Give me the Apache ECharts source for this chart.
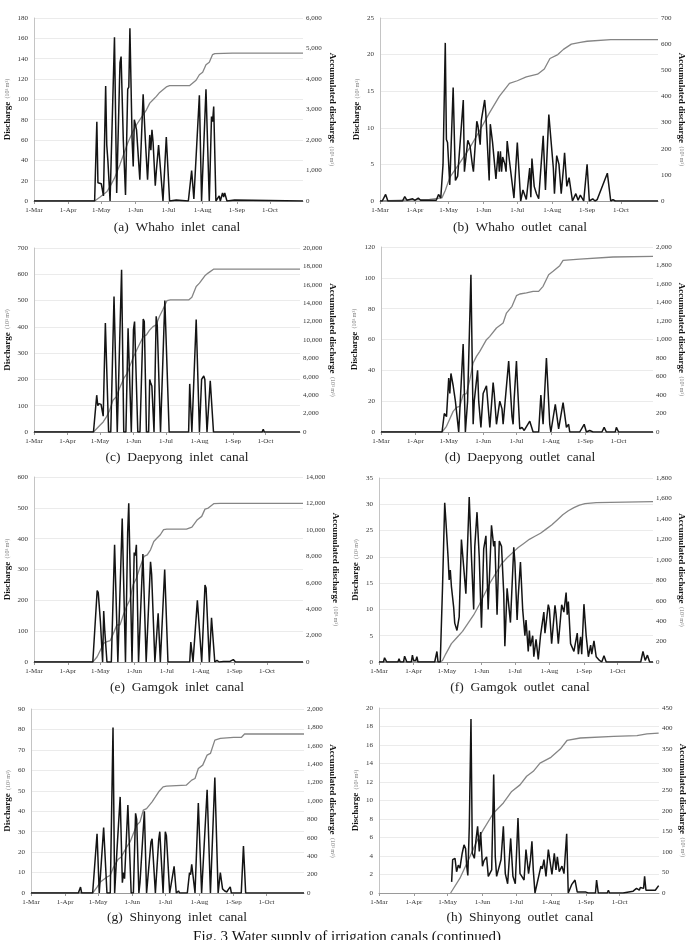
<!DOCTYPE html>
<html>
<head>
<meta charset="utf-8">
<script src="https://cdn.jsdelivr.net/npm/echarts@6/dist/echarts.min.js"></script>
<style>
  html, body { margin: 0; background: #fff; }
  #chart { width: 694px; height: 940px; }
</style>
</head>
<body>
<div id="chart"></div>
<script>
// x axis = days counted from 1 March
const monthDays = [0, 31, 61, 92, 122, 153, 184, 214]
const monthLabels = ['1-Mar', '1-Apr', '1-May', '1-Jun', '1-Jul', '1-Aug', '1-Sep', '1-Oct']

const captions = [
  '(a)  Whaho  inlet  canal', '(b)  Whaho  outlet  canal',
  '(c)  Daepyong  inlet  canal', '(d)  Daepyong  outlet  canal',
  '(e)  Gamgok  inlet  canal', '(f)  Gamgok  outlet  canal',
  '(g)  Shinyong  inlet  canal', '(h)  Shinyong  outlet  canal'
]
const figCaption = 'Fig. 3 Water supply of irrigation canals (continued)'

// [day, discharge] and [day, accumulated discharge]
const whahoInQ = [[0,0],[55,0],[57,78],[58,18],[61,17],[63,5],[65,113],[66,55],[67,40],[69,0],[73,161],[75,8],[78,136],[79,142],[81,60],[83,6],[85,110],[86,112],[87,170],[89,60],[90,34],[91,80],[93,70],[96,21],[97,20],[99,105],[101,60],[103,21],[105,65],[106,50],[107,70],[108,58],[110,15],[111,30],[113,55],[114,54],[117,0],[120,63],[123,0],[129,1],[130,0],[140,0],[141,10],[143,30],[145,2],[150,104],[152,0],[156,110],[159,0],[161,83],[162,78],[163,93],[165,0],[168,5],[169,0],[171,8],[172,4],[173,8],[175,0],[182,1],[183,0],[244,0]]
const whahoInAcc = [[0,0],[55,0],[60,130],[66,300],[69,480],[73,750],[78,1200],[82,1600],[85,1900],[90,2300],[93,2500],[97,2720],[102,2990],[105,3210],[108,3320],[111,3430],[114,3560],[117,3650],[120,3740],[123,3780],[141,3780],[144,3870],[147,3960],[150,4140],[153,4220],[156,4470],[159,4550],[162,4800],[164,4830],[180,4850],[244,4850]]

const whahoOutQ = [[0,0],[2,0],[5,0.9],[7,0],[20,0],[22,0.6],[24,0.1],[29,0.3],[31,0.1],[34,0.4],[36,0.1],[50,0.1],[52,0.9],[54,0.4],[56,5],[58,21.6],[59,8.4],[60,8],[62,2.2],[65,15.5],[67,2.8],[69,3.4],[74,13.8],[75,4],[78,8.3],[80,7.5],[82,5],[83,4],[86,10.9],[87,10.3],[89,7.7],[90,11],[93,13.8],[94,12],[97,2.8],[98,10.5],[100,8],[103,3],[105,6.8],[106,4],[107,6.8],[108,4],[109,6],[111,5],[112,4],[113,8.2],[115,5.5],[116,5.5],[119,0.4],[122,8],[125,0],[127,1.5],[130,0.2],[133,4.5],[134,0.5],[135,5.8],[137,2],[139,1],[141,0.3],[145,8.9],[147,1.5],[150,11.8],[154,4.5],[155,1],[157,6.2],[159,5],[161,1],[163,4.5],[164,6.6],[166,2],[168,3.2],[171,0],[174,1],[176,0.1],[178,0.8],[179,0.8],[181,0],[184,5],[186,0],[189,0.3],[191,0],[193,0.2],[194,0],[202,3.8],[205,0],[207,0.2],[209,0],[236,0],[237,0.2],[238,0],[247,0]]
const whahoOutAcc = [[0,0],[44,6],[55,12],[58,40],[62,90],[70,140],[80,205],[88,265],[97,335],[106,400],[115,450],[122,460],[130,475],[140,485],[146,505],[151,545],[158,560],[163,580],[170,600],[178,607],[184,611],[205,617],[247,617]]

const daepInQ = [[0,0],[55,0],[58,140],[59,100],[60,108],[62,105],[63,100],[64,60],[66,415],[69,0],[71,0],[74,515],[77,0],[78,0],[81,617],[83,0],[85,0],[87,395],[88,395],[90,0],[92,390],[93,420],[96,0],[98,0],[101,430],[102,420],[104,0],[106,0],[107,200],[108,185],[109,175],[111,0],[113,440],[114,405],[115,410],[117,0],[118,0],[121,500],[125,0],[143,0],[144,183],[146,0],[147,0],[150,428],[153,0],[155,200],[157,213],[158,200],[160,0],[161,0],[163,195],[166,0],[182,0],[183,5],[184,0],[200,0],[201,3],[202,0],[211,0],[212,10],[213,0],[246,0]]
const daepInAcc = [[0,0],[55,0],[61,727],[64,1090],[67,1640],[70,2360],[73,3450],[76,3820],[79,4730],[83,5820],[86,6360],[89,7270],[92,8180],[95,8910],[98,9640],[101,10360],[104,10550],[107,11090],[110,11450],[113,11640],[116,12550],[119,13270],[123,14290],[126,14360],[143,14360],[146,14650],[150,15820],[153,16180],[158,16980],[161,17270],[166,17700],[246,17700]]

const daepOutQ = [[0,0],[55,0],[57,12],[58,13],[59,10],[61,35],[62,25],[63,38],[65,30],[66,25],[67,20],[68,20],[70,0],[74,57],[76,0],[78,20],[81,102],[83,5],[84,20],[87,40],[88,20],[90,3],[92,25],[95,30],[98,3],[101,32],[102,25],[104,5],[107,20],[109,15],[110,5],[115,46],[118,10],[119,5],[120,22],[122,46],[123,30],[125,2],[127,3],[129,1],[134,7],[137,0],[142,0],[144,24],[146,5],[147,20],[149,48],[152,5],[153,0],[157,18],[160,2],[164,19],[167,3],[169,5],[170,0],[179,0],[183,5],[185,0],[188,1],[191,0],[199,0],[201,3],[203,0],[211,0],[212,3],[214,0],[245,0]]
const daepOutAcc = [[0,0],[55,0],[59,61],[65,223],[68,267],[71,277],[74,404],[77,414],[80,566],[83,746],[86,818],[89,872],[95,998],[98,1034],[104,1124],[110,1178],[113,1286],[118,1359],[122,1474],[125,1492],[131,1503],[137,1521],[142,1521],[146,1575],[151,1701],[155,1737],[161,1798],[164,1856],[179,1870],[209,1892],[245,1899]]

const gamInQ = [[0,0],[54,0],[58,232],[59,225],[61,130],[62,125],[63,0],[64,165],[65,100],[67,0],[71,0],[74,380],[77,0],[81,465],[84,0],[86,420],[87,515],[90,0],[92,355],[93,345],[94,380],[96,0],[100,350],[103,0],[107,325],[108,285],[109,290],[111,0],[114,158],[116,0],[120,300],[123,0],[143,0],[144,65],[146,0],[147,0],[150,200],[151,205],[154,0],[157,250],[158,240],[161,0],[163,143],[166,0],[168,5],[170,0],[174,2],[180,2],[183,8],[185,0],[247,0]]
const gamInAcc = [[0,0],[54,0],[58,400],[61,910],[64,1420],[67,1540],[70,1620],[73,2170],[76,2800],[79,2810],[82,3560],[85,4200],[88,4700],[91,5840],[94,6340],[97,7100],[101,7990],[104,8110],[107,8490],[110,9120],[113,9380],[116,9630],[119,10010],[122,10060],[140,10060],[145,10210],[150,10770],[154,11020],[157,11570],[160,11650],[165,11980],[171,12000],[247,12000]]

const gamOutQ = [[0,0],[4,0],[5,0.8],[7,0],[17,0],[18,0.6],[19,0],[22,0],[23,1.1],[25,0],[29,0],[30,1.3],[31,0.3],[33,0.3],[34,1],[35,0],[50,0],[52,2],[53,0],[55,0],[57,14],[59,30.3],[60,27],[62,20],[63,15.6],[64,17.5],[65,14.4],[67,10.5],[68,7.4],[70,6],[72,8.6],[74,23.3],[75,23],[78,13],[81,31.4],[83,20],[85,10],[86,22],[88,28.5],[90,20],[92,6.5],[94,21.5],[96,24],[98,10],[101,26],[103,22],[104,23],[106,9],[108,23],[110,22],[112,13],[113,3],[115,14],[118,7.5],[121,21.8],[122,19],[124,8],[125,12.5],[126,12.5],[127,19],[129,10],[131,5],[132,8],[134,2],[135,6],[136,3],[138,5],[139,1],[141,4.3],[143,0.5],[145,5],[148,9.5],[149,5.5],[152,10.9],[153,10],[155,3.5],[158,10.8],[159,9],[161,3.5],[164,10.9],[166,9.5],[168,13.2],[169,9],[170,11.5],[172,3.5],[175,2],[178,5.5],[179,1.5],[181,4.8],[182,1.5],[184,11],[186,5],[188,1],[190,3.2],[191,1.5],[193,4],[195,1],[198,0.3],[200,0],[202,1.2],[204,0],[235,0],[237,2],[239,0.3],[241,1.3],[243,0],[246,0]]
const gamOutAcc = [[0,0],[55,0],[57,15],[60,80],[65,180],[70,240],[75,300],[80,380],[85,460],[90,560],[95,670],[100,780],[105,870],[110,960],[115,1020],[120,1070],[125,1120],[130,1160],[135,1200],[140,1230],[145,1260],[150,1300],[155,1340],[160,1390],[165,1440],[170,1480],[175,1510],[180,1535],[185,1550],[195,1560],[246,1568]]

const shinInQ = [[0,0],[43,0],[45,2.9],[46,0],[56,0],[60,29],[62,0],[66,32],[69,0],[72,0],[74.5,81],[76,0],[78,20],[81,47],[83,5],[84,10],[85,7],[88,43],[91,0],[93,0],[95,39],[96,36],[98,0],[99,5],[103,40],[105,0],[106,0],[109,25],[110,26.5],[113,0],[114,0],[116,26],[117,30],[120,0],[122,30],[123,28],[126,0],[130,13],[132,0],[134,1],[135,0],[142,0],[144,10],[145,9],[146,14],[149,0],[152,44],[155,0],[160,50.5],[163,0],[167,56.5],[170,0],[172,10],[174,2],[176,1],[178,0.5],[179,1.5],[181,3],[182,0],[191,0],[193,23],[195,0],[248,0]]
const shinInAcc = [[0,0],[56,0],[60,65],[63,120],[69,174],[72,192],[75,283],[79,363],[82,392],[87,501],[90,555],[93,646],[96,737],[99,773],[102,900],[105,918],[110,991],[113,1045],[116,1100],[120,1154],[123,1161],[141,1172],[146,1227],[149,1245],[152,1354],[156,1390],[160,1499],[163,1517],[167,1662],[172,1680],[184,1691],[191,1691],[194,1728],[248,1728]]

const shinOutQ = [[64.6,1.2],[65.5,3.6],[67.6,3.75],[69,2.3],[70.5,3],[72,2.7],[72.6,3.2],[74,4.3],[75.6,5.2],[77,4.8],[78,2.9],[79,1.9],[80.3,7.2],[81.8,18.8],[83,4.3],[84.8,3.75],[86.2,5.7],[87.7,7.2],[89.2,4.5],[90.4,6.6],[92,2.9],[93.4,3.5],[95.7,3.9],[97.2,1.8],[98.7,1.6],[100.2,2.5],[102,12.8],[103.4,3.9],[104.6,1.8],[106,2],[108.5,3.6],[110.6,7.2],[112.3,2.1],[114.4,1],[117.1,5.9],[119.1,1.8],[121.2,1],[123.6,8.1],[125.4,2.1],[127,1.8],[129,1.4],[130.7,4.7],[132,4.8],[133,2.1],[134.6,3.5],[136,5.6],[137.2,2.5],[138.7,0],[140.2,0.1],[142,1.8],[144,2.9],[145.2,2.6],[146.7,3.6],[148.5,1.8],[150.6,4.7],[152,4.8],[153.8,2],[155.9,4.3],[157.4,2.5],[158.6,3.9],[160.3,2.3],[162.7,2.9],[164.5,2.1],[166.9,6.4],[168.3,0],[171.3,0.9],[174.3,1.4],[176.3,0.1],[184,0.1],[185,0.3],[186,0],[192.5,0],[193.5,1.4],[195,0],[203,0],[204,0.3],[205,0],[215,0],[216,0.2],[217,0],[226,0.2],[229,0.5],[231.5,0.3],[232.4,0.6],[234,0.8],[235.3,0.5],[236.2,1.8],[237.4,0.3],[241,0.3],[245.7,0.3],[248.7,0.8]]
const shinOutAcc = [[63.7,0],[72,36],[80.9,89],[86.8,125],[92.8,154],[101.7,194],[110.6,219],[118,247],[125.4,263],[131.3,284],[137.2,296],[143.2,316],[152.9,330],[161.2,350],[167.2,371],[179,377],[208.7,381],[229.4,383],[238.3,387],[248.7,389]]

// layout: plot box [left, top, right, bottom], caption position, name gaps [left, right]
const panels = [
  { q: whahoInQ,  acc: whahoInAcc,  qMax: 180, qStep: 20, aMax: 6000,  aStep: 1000, xMax: 244, box: [34, 18, 303, 201],   cap: [177, 227], gap: [17, 23] },
  { q: whahoOutQ, acc: whahoOutAcc, qMax: 25,  qStep: 5,  aMax: 700,   aStep: 100,  xMax: 247, box: [380, 18, 658, 201],  cap: [520, 227], gap: [14, 15] },
  { q: daepInQ,   acc: daepInAcc,   qMax: 700, qStep: 100, aMax: 20000, aStep: 2000, xMax: 246, box: [34, 248, 300, 432],  cap: [177, 457], gap: [17, 25] },
  { q: daepOutQ,  acc: daepOutAcc,  qMax: 120, qStep: 20, aMax: 2000,  aStep: 200,  xMax: 245, box: [381, 247, 653, 432], cap: [520, 457], gap: [15, 21] },
  { q: gamInQ,    acc: gamInAcc,    qMax: 600, qStep: 100, aMax: 14000, aStep: 2000, xMax: 247, box: [34, 477, 303, 662],  cap: [177, 687], gap: [17, 23] },
  { q: gamOutQ,   acc: gamOutAcc,   qMax: 35,  qStep: 5,  aMax: 1800,  aStep: 200,  xMax: 246, box: [379, 478, 653, 662], cap: [520, 687], gap: [13, 21] },
  { q: shinInQ,   acc: shinInAcc,   qMax: 90,  qStep: 10, aMax: 2000,  aStep: 200,  xMax: 248, box: [31, 709, 304, 893],  cap: [177, 917], gap: [14, 22] },
  { q: shinOutQ,  acc: shinOutAcc,  qMax: 20,  qStep: 2,  aMax: 450,   aStep: 50,   xMax: 249, box: [379, 708, 659, 893], cap: [520, 917], gap: [13, 15] }
]

const serif = 'Liberation Serif'
const fmt = v => v.toLocaleString('en-US')
const nameRich = {
  b: { fontFamily: serif, fontWeight: 'bold', fontSize: 9, color: '#111' },
  s: { fontFamily: serif, fontSize: 6, color: '#777' }
}

const grid = [], xAxis = [], yAxis = [], series = [], graphic = []

panels.forEach((p, i) => {
  const [l, t, r, b] = p.box
  grid.push({ left: l, top: t, width: r - l, height: b - t })
  xAxis.push({
    type: 'value', gridIndex: i, min: 0, max: p.xMax,
    axisLine: { lineStyle: { color: '#9a9a9a', width: 1 } },
    axisTick: { show: true, customValues: monthDays, length: 3, lineStyle: { color: '#9a9a9a' } },
    axisLabel: {
      customValues: monthDays, fontFamily: serif, fontSize: 7, color: '#333', margin: 6,
      formatter: v => monthLabels[monthDays.indexOf(v)]
    },
    splitLine: { show: false }
  })
  yAxis.push({
    type: 'value', gridIndex: i, position: 'left', min: 0, max: p.qMax, interval: p.qStep,
    name: '{b|Discharge} {s|(10³ m³)}', nameLocation: 'middle', nameRotate: 90, nameGap: p.gap[0],
    nameTextStyle: { rich: nameRich },
    axisLine: { show: true, lineStyle: { color: '#c4c4c4' } },
    axisTick: { show: false },
    axisLabel: { fontFamily: serif, fontSize: 7, color: '#333', margin: 6, formatter: fmt },
    splitLine: { lineStyle: { color: '#e6e6e6', width: 0.8 } }
  })
  yAxis.push({
    type: 'value', gridIndex: i, position: 'right', min: 0, max: p.aMax, interval: p.aStep,
    name: '{b|Accumulated discharge} {s|(10³ m³)}', nameLocation: 'middle', nameRotate: -90, nameGap: p.gap[1],
    nameTextStyle: { rich: nameRich },
    axisLine: { show: false },
    axisTick: { show: false },
    axisLabel: { fontFamily: serif, fontSize: 7, color: '#333', margin: 3, formatter: fmt },
    splitLine: { show: false }
  })
  series.push({
    type: 'line', xAxisIndex: i, yAxisIndex: 2 * i + 1, data: p.acc,
    showSymbol: false, lineStyle: { color: '#858585', width: 1.3 }, z: 2
  })
  series.push({
    type: 'line', xAxisIndex: i, yAxisIndex: 2 * i, data: p.q,
    showSymbol: false, lineStyle: { color: '#141414', width: 1.5 }, z: 3
  })
  graphic.push({
    type: 'text', x: p.cap[0], y: p.cap[1],
    style: { text: captions[i], font: '13.5px "Liberation Serif"', fill: '#222', textAlign: 'center', textVerticalAlign: 'middle' }
  })
})

graphic.push({
  type: 'text', x: 347, y: 937,
  style: { text: figCaption, font: '15px "Liberation Serif"', fill: '#111', textAlign: 'center', textVerticalAlign: 'middle' }
})

const chart = echarts.init(document.getElementById('chart'))
chart.setOption({
  backgroundColor: '#fff',
  animation: false,
  grid, xAxis, yAxis, series, graphic
})
</script>
</body>
</html>
